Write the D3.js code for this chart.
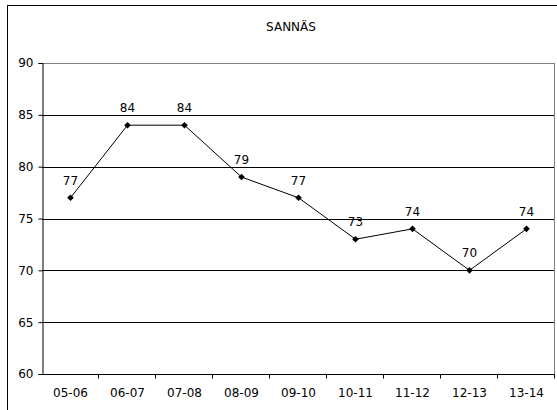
<!DOCTYPE html>
<html>
<head>
<meta charset="utf-8">
<script src="https://cdn.jsdelivr.net/npm/d3@7"></script>
<style>
  body { margin: 0; background: #fff; }
  text { font-family: "DejaVu Sans", Verdana, sans-serif; font-size: 12px; fill: #000; }
</style>
</head>
<body>
<svg id="chart" width="557" height="410"></svg>
<script>
// data
const seasons = ['05-06', '06-07', '07-08', '08-09', '09-10', '10-11', '11-12', '12-13', '13-14']
const values = [77, 84, 84, 79, 77, 73, 74, 70, 74]
const yTicks = [60, 65, 70, 75, 80, 85, 90]
const title = 'SANNÄS'

const svg = d3.select('#chart')
const margin = { left: 42, top: 63, right: 2, bottom: 36 }
const width = 557 - margin.left - margin.right
const height = 374 - margin.top

// outer frame, runs off the right and bottom edge
svg.append('rect')
  .attr('x', 7.5).attr('y', 5.5)
  .attr('width', 600).attr('height', 450)
  .attr('fill', '#fff').attr('stroke', '#000').attr('stroke-width', 1)

svg.append('text')
  .attr('x', 291).attr('y', 31)
  .attr('text-anchor', 'middle')
  .text(title)

const g = svg.append('g')
  .attr('id', 'graph-g')
  .attr('transform', 'translate(' + margin.left + ',' + margin.top + ')')

const xScale = d3.scaleBand().domain(seasons).range([0, width])
const yScale = d3.scaleLinear().domain([60, 90]).range([height, 0])

// horizontal grid lines
g.append('g')
  .selectAll('line')
  .data(yTicks.filter(function (d) { return d > 60 }))
  .join('line')
  .attr('x1', 0).attr('x2', width)
  .attr('y1', function (d) { return Math.round(yScale(d)) + 0.5 })
  .attr('y2', function (d) { return Math.round(yScale(d)) + 0.5 })
  .attr('stroke', function (d) { return d === 90 ? '#808080' : '#000' })

// right border of the plot
g.append('line')
  .attr('x1', width - 0.5).attr('x2', width - 0.5)
  .attr('y1', 0).attr('y2', height)
  .attr('stroke', '#808080')

// y axis
const yAxis = g.append('g')
  .attr('transform', 'translate(0.5,0)')
  .call(d3.axisLeft(yScale).tickValues(yTicks).tickSize(4).tickPadding(5))
yAxis.select('.domain').attr('stroke', '#000')
yAxis.selectAll('text').style('font-family', '"DejaVu Sans", Verdana, sans-serif').style('font-size', '12px')

// x axis with ticks between categories
const xAxis = g.append('g')
  .attr('transform', 'translate(0,' + (height + 0.5) + ')')
xAxis.append('line')
  .attr('x1', 0).attr('x2', width)
  .attr('stroke', '#000')
xAxis.selectAll('.sep')
  .data(seasons)
  .join('line')
  .attr('class', 'sep')
  .attr('x1', function (d) { return Math.round(xScale(d) + xScale.bandwidth()) - 0.5 })
  .attr('x2', function (d) { return Math.round(xScale(d) + xScale.bandwidth()) - 0.5 })
  .attr('y1', 0).attr('y2', 4)
  .attr('stroke', '#000')
xAxis.selectAll('.lbl')
  .data(seasons)
  .join('text')
  .attr('class', 'lbl')
  .attr('x', function (d) { return xScale(d) + xScale.bandwidth() / 2 })
  .attr('y', 22)
  .attr('text-anchor', 'middle')
  .text(function (d) { return d })

const cx = function (d, i) { return xScale(seasons[i]) + xScale.bandwidth() / 2 }

// line
g.append('path')
  .datum(values)
  .attr('fill', 'none')
  .attr('stroke', '#000')
  .attr('stroke-width', 1)
  .attr('d', d3.line().x(cx).y(function (d) { return yScale(d) }))

// diamond markers
g.selectAll('.marker')
  .data(values)
  .join('path')
  .attr('class', 'marker')
  .attr('d', d3.symbol().type(d3.symbolDiamond2).size(28))
  .attr('transform', function (d, i) { return 'translate(' + cx(d, i) + ',' + yScale(d) + ')' })
  .attr('fill', '#000')

// value labels
g.selectAll('.val')
  .data(values)
  .join('text')
  .attr('class', 'val')
  .attr('x', cx)
  .attr('y', function (d) { return yScale(d) - 13 })
  .attr('text-anchor', 'middle')
  .text(function (d) { return d })
</script>
</body>
</html>
